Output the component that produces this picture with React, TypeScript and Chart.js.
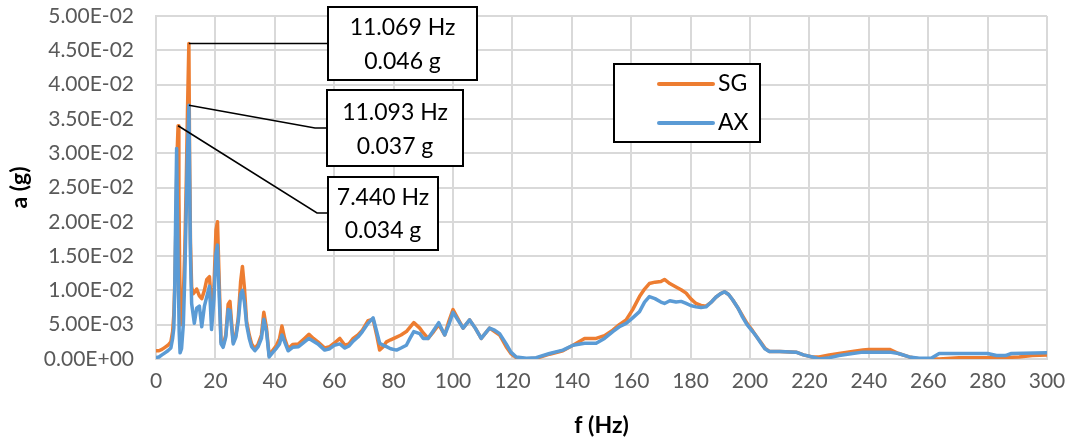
import React, { useEffect, useRef } from "react";
import { Chart, registerables } from "chart.js";

Chart.register(...registerables);

// ---- data ----
const SERIES_NAMES = ["SG", "AX"];

const SG_FREQ = [
  0, 1, 2, 3, 4, 5, 5.6, 6.0, 6.4, 6.8, 7.1, 7.44, 7.7, 8.0, 8.4, 8.8, 9.2, 9.7, 10.2, 10.6, 11.069, 11.3, 11.6,
  12.0, 12.5, 12.9, 13.7, 14.6, 15.4, 16.3, 17.1, 18.0, 18.7, 19.5, 20.2, 20.7, 21.3, 21.9, 22.6, 23.5, 24.3, 24.9,
  25.5, 26.0, 26.9, 27.7, 28.5, 29.1, 29.8, 30.5, 31.4, 32.2, 33.3, 34.4, 35.5, 36.3, 37.2, 38.1, 39.4, 40.6, 41.6,
  42.4, 43.3, 44.5, 46.0, 48.0, 50.0, 51.5, 53.0, 54.5, 56.8, 58.5, 60.0, 61.9, 63.6, 65.0, 66.4, 68.0, 69.5, 71.4,
  73.1, 74.3, 75.3, 76.5, 77.6, 79.0, 81.0, 82.5, 84.3, 86.8, 88.8, 90.0, 91.6, 93.5, 95.2, 97.2, 98.6, 100.0, 101.5,
  103.4, 105.6, 107.5, 109.5, 112.3, 114.0, 115.7, 117.9, 119.5, 121.3, 124.7, 128.0, 132.5, 137.0, 140.4, 144.3,
  148.2, 151.0, 153.8, 156.0, 158.3, 160.5, 162.8, 164.5, 166.1, 168.0, 170.0, 171.2, 173.0, 175.1, 176.8, 178.5,
  180.0, 181.8, 183.5, 185.2, 187.0, 188.5, 190.0, 191.4, 192.8, 194.2, 196.0, 197.5, 199.0, 200.9, 202.3, 203.7,
  205.0, 206.5, 210.0, 215.5, 218.0, 221.0, 223.3, 226.7, 230.0, 234.5, 238.0, 240.0, 247.0, 250.0, 253.6, 257.0,
  263.7, 270.4, 285.0, 290.6, 295.0, 300.0,
];
const SG_VAL = [
  0.0012, 0.0012, 0.0014, 0.0017, 0.002, 0.0025, 0.004, 0.0065, 0.012, 0.022, 0.03, 0.034, 0.024, 0.012, 0.005, 0.0055,
  0.009, 0.016, 0.026, 0.036, 0.046, 0.03, 0.017,
  0.0105, 0.0095, 0.0097, 0.0102, 0.0092, 0.0088, 0.01, 0.0116, 0.012, 0.0077, 0.0104, 0.0188, 0.02, 0.011, 0.0025,
  0.002, 0.0035, 0.008, 0.0084,
  0.005, 0.0025, 0.0035, 0.006, 0.0113, 0.0135, 0.0102, 0.0055, 0.0035, 0.0022, 0.0015, 0.0022, 0.0035, 0.0068, 0.0045,
  0.0005, 0.0013, 0.002, 0.003,
  0.0048, 0.003, 0.0015, 0.0021, 0.0022, 0.003, 0.0036, 0.003, 0.0025, 0.0016, 0.0018, 0.0023, 0.003, 0.002, 0.0022,
  0.003, 0.0035, 0.0042, 0.0056,
  0.0058, 0.0035, 0.0013, 0.0018, 0.0025, 0.0028, 0.0032, 0.0035, 0.004, 0.0053, 0.0045, 0.0038, 0.003, 0.004, 0.005,
  0.0035, 0.0055, 0.0072, 0.006,
  0.0045, 0.0057, 0.0045, 0.003, 0.0045, 0.004, 0.0035, 0.0018, 0.0008, 0.0002, 0.0, 0.0001, 0.0007, 0.0012, 0.002,
  0.003,
  0.003, 0.0034, 0.0042, 0.005, 0.0057, 0.0072, 0.0091, 0.0102, 0.011, 0.0112, 0.0113, 0.0116, 0.011, 0.0105, 0.0101,
  0.0096,
  0.0088, 0.0081, 0.0078, 0.0077, 0.0083, 0.009, 0.0095, 0.0098, 0.0094, 0.0086, 0.0074, 0.0063, 0.0052, 0.0041,
  0.0032, 0.0024,
  0.0016, 0.0011, 0.0011, 0.001, 0.0006, 0.0003, 0.0003, 0.0006, 0.0008, 0.0011, 0.0013, 0.0014, 0.0014, 0.0008,
  0.0003, 0.0,
  0.0, 0.0002, 0.0002, 0.0003, 0.0005, 0.0006,
];

const AX_FREQ = [
  0, 1, 2, 3, 4, 5, 5.6, 6.0, 6.3, 6.6, 6.95, 7.2, 7.5, 7.8, 8.1, 8.6, 9.2, 9.7, 10.2, 10.6, 11.093, 11.3, 11.6,
  12.0, 12.5, 12.9, 13.7, 14.6, 15.4, 16.3, 17.1, 18.0, 18.7, 19.5, 20.2, 20.7, 21.3, 21.9, 22.6, 23.5, 24.3, 24.9,
  25.5, 26.0, 26.9, 27.7, 28.5, 29.1, 29.8, 30.5, 31.4, 32.2, 33.3, 34.4, 35.5, 36.3, 37.2, 38.1, 39.4, 40.6, 41.6,
  42.4, 43.3, 44.5, 46.0, 48.0, 50.0, 51.5, 53.0, 54.5, 56.8, 58.5, 60.0, 61.9, 63.6, 65.0, 66.4, 68.0, 69.5, 71.4,
  73.1, 74.3, 75.3, 76.5, 77.6, 79.0, 81.0, 82.5, 84.3, 85.5, 86.8, 88.8, 90.0, 91.6, 93.5, 95.2, 97.2, 98.6, 100.0,
  101.5, 103.4, 105.6, 107.5, 109.5, 112.3, 114.0, 115.7, 117.9, 119.5, 121.3, 124.7, 128.0, 132.5, 137.0, 140.4,
  144.3, 148.2, 151.0, 153.8, 156.0, 158.3, 160.5, 162.8, 164.5, 166.1, 168.0, 170.0, 171.2, 173.0, 175.1, 176.8,
  178.5, 180.0, 181.8, 183.5, 185.2, 187.0, 188.5, 190.0, 191.4, 192.8, 194.2, 196.0, 197.5, 199.0, 200.9, 202.3,
  203.7, 205.0, 206.5, 210.0, 215.5, 218.0, 221.0, 223.3, 226.7, 230.0, 234.5, 238.0, 247.0, 250.0, 253.6, 257.0,
  261.0, 263.7, 277.0, 280.0, 283.0, 286.0, 288.0, 300.0,
];
const AX_VAL = [
  0.0002, 0.0003, 0.0006, 0.0009, 0.0012, 0.0016, 0.003, 0.0045, 0.01, 0.02, 0.0307, 0.022, 0.012, 0.004, 0.0009,
  0.0015, 0.005, 0.012, 0.022, 0.03, 0.037, 0.027, 0.015,
  0.0081, 0.0065, 0.0052, 0.0074, 0.0077, 0.0047, 0.0077, 0.0091, 0.0106, 0.0043, 0.0087, 0.0154, 0.0166, 0.009,
  0.0022, 0.0017, 0.0032, 0.0072, 0.0071,
  0.0045, 0.0022, 0.0032, 0.0055, 0.0094, 0.01, 0.0082, 0.005, 0.003, 0.0018, 0.0012, 0.0018, 0.003, 0.0058, 0.004,
  0.0003, 0.001, 0.0016, 0.0022,
  0.0035, 0.0025, 0.0012, 0.0017, 0.0018, 0.0025, 0.003, 0.0026, 0.0022, 0.0013, 0.0015, 0.002, 0.0022, 0.0016, 0.0019,
  0.0026, 0.0032, 0.004, 0.0052,
  0.006, 0.004, 0.0023, 0.002, 0.0018, 0.0015, 0.0013, 0.0016, 0.002, 0.003, 0.004, 0.0037, 0.003, 0.003, 0.0042,
  0.0053, 0.0035, 0.005, 0.0068,
  0.0058, 0.0045, 0.0057, 0.0045, 0.003, 0.0045, 0.0042, 0.0037, 0.0022, 0.001, 0.0003, 0.0001, 0.0002, 0.0008,
  0.0013, 0.002,
  0.0023, 0.0023, 0.003, 0.004, 0.0047, 0.0052, 0.006, 0.0069, 0.0083, 0.0091, 0.0088, 0.0083, 0.0081, 0.0085,
  0.0083, 0.0084,
  0.0081, 0.0078, 0.0076, 0.0075, 0.0076, 0.0083, 0.009, 0.0095, 0.0098, 0.0094, 0.0086, 0.0074, 0.0061, 0.005,
  0.004, 0.0032,
  0.0023, 0.0015, 0.0011, 0.0011, 0.001, 0.0006, 0.0003, 0.0, 0.0002, 0.0005, 0.0008, 0.001, 0.001, 0.0008, 0.0003,
  0.0001,
  0.0001, 0.0008, 0.0008, 0.0008, 0.0005, 0.0005, 0.0008, 0.0009,
];

// peak callouts
const CALLOUT_FREQ = [11.069, 11.093, 7.44];
const CALLOUT_VAL = [0.046, 0.037, 0.034];
const CALLOUT_TEXT = [
  ["11.069 Hz", "0.046 g"],
  ["11.093 Hz", "0.037 g"],
  ["7.440 Hz", "0.034 g"],
];

const X_MIN = 0;
const X_MAX = 300;
const X_STEP = 20;
const Y_MIN = 0;
const Y_MAX = 0.05;
const Y_STEP = 0.005;

const ORANGE = "#ED7D31";
const BLUE = "#5B9BD5";
const FONT = "Lato, 'Open Sans', sans-serif";

function sci(v: number): string {
  if (Math.abs(v) < 1e-12) return "0.00E+00";
  const e = Math.floor(Math.log10(Math.abs(v)) + 1e-9);
  const m = v / Math.pow(10, e);
  return m.toFixed(2) + "E" + (e < 0 ? "-" : "+") + String(Math.abs(e)).padStart(2, "0");
}

// layout of callout boxes (pixels)
const BOXES = [
  { x: 328, y: 7, w: 149, h: 73, elbow: null as null | [number, number], joinY: 43, t1: 28, t2: 62 },
  { x: 327, y: 90, w: 136, h: 76, elbow: [315, 128] as [number, number], joinY: 128, t1: 113, t2: 147 },
  { x: 328, y: 177, w: 110, h: 73, elbow: [317, 213] as [number, number], joinY: 213, t1: 198, t2: 231 },
];

const overlayPlugin = {
  id: "overlay",
  afterDatasetsDraw(chart: any) {
    const ctx = chart.ctx as CanvasRenderingContext2D;
    const xs = chart.scales.x;
    const ys = chart.scales.y;
    ctx.save();
    BOXES.forEach((b, i) => {
      const px = xs.getPixelForValue(CALLOUT_FREQ[i]);
      const py = ys.getPixelForValue(CALLOUT_VAL[i]);
      ctx.strokeStyle = "#000";
      ctx.lineWidth = 1.5;
      ctx.beginPath();
      ctx.moveTo(px, py);
      if (b.elbow) {
        ctx.lineTo(b.elbow[0], b.elbow[1]);
        ctx.lineTo(b.x, b.joinY);
      } else {
        ctx.lineTo(b.x, py);
      }
      ctx.stroke();
      ctx.fillStyle = "#fff";
      ctx.fillRect(b.x, b.y, b.w, b.h);
      ctx.lineWidth = 2;
      ctx.strokeRect(b.x, b.y, b.w, b.h);
      ctx.fillStyle = "#000";
      ctx.font = `23px ${FONT}`;
      ctx.textAlign = "center";
      ctx.textBaseline = "middle";
      ctx.fillText(CALLOUT_TEXT[i][0], b.x + b.w / 2, b.t1);
      ctx.fillText(CALLOUT_TEXT[i][1], b.x + b.w / 2, b.t2);
    });
    // legend
    const lg = { x: 614, y: 64, w: 146, h: 78 };
    ctx.fillStyle = "#fff";
    ctx.fillRect(lg.x, lg.y, lg.w, lg.h);
    ctx.strokeStyle = "#000";
    ctx.lineWidth = 2;
    ctx.strokeRect(lg.x, lg.y, lg.w, lg.h);
    const rows = [84, 123];
    const cols = [ORANGE, BLUE];
    rows.forEach((ry, i) => {
      ctx.strokeStyle = cols[i];
      ctx.lineWidth = 4;
      ctx.lineCap = "round";
      ctx.beginPath();
      ctx.moveTo(659, ry);
      ctx.lineTo(713, ry);
      ctx.stroke();
      ctx.fillStyle = "#000";
      ctx.font = `23px ${FONT}`;
      ctx.textAlign = "left";
      ctx.textBaseline = "middle";
      ctx.fillText(SERIES_NAMES[i], 718, ry);
    });
    ctx.restore();
  },
};

export default function App() {
  const ref = useRef<HTMLCanvasElement>(null);
  useEffect(() => {
    document.body.style.margin = "0";
    const canvas = ref.current!;
    const chart = new Chart(canvas, {
      type: "line",
      data: {
        datasets: [
          {
            label: SERIES_NAMES[0],
            data: SG_FREQ.map((f, i) => ({ x: f, y: SG_VAL[i] })),
            borderColor: ORANGE,
            backgroundColor: ORANGE,
            borderWidth: 3.5,
            pointRadius: 0,
            tension: 0,
            order: 2,
            borderJoinStyle: "round",
            borderCapStyle: "round",
          },
          {
            label: SERIES_NAMES[1],
            data: AX_FREQ.map((f, i) => ({ x: f, y: AX_VAL[i] })),
            borderColor: BLUE,
            backgroundColor: BLUE,
            borderWidth: 3.5,
            pointRadius: 0,
            tension: 0,
            order: 1,
            borderJoinStyle: "round",
            borderCapStyle: "round",
          },
        ],
      },
      options: {
        animation: false,
        responsive: false,
        devicePixelRatio: 1,
        layout: { padding: { top: 16, right: 26, left: 0, bottom: 0 } },
        plugins: { legend: { display: false }, tooltip: { enabled: false } },
        scales: {
          x: {
            type: "linear",
            min: X_MIN,
            max: X_MAX,
            ticks: {
              stepSize: X_STEP,
              color: "#595959",
              font: { family: FONT, size: 21 },
              padding: 10,
              maxRotation: 0,
            },
            grid: { color: "#d9d9d9", lineWidth: 2, drawTicks: false },
            border: { color: "#d9d9d9", width: 2 },
            title: {
              display: true,
              text: "f (Hz)",
              color: "#000",
              font: { family: FONT, size: 23, weight: "bold" },
              padding: { top: 0, bottom: 6 },
            },
            afterFit: (s: any) => {
              s.height = 86;
              s.paddingLeft = 0;
              s.paddingRight = 0;
            },
          },
          y: {
            type: "linear",
            min: Y_MIN,
            max: Y_MAX,
            ticks: {
              stepSize: Y_STEP,
              color: "#595959",
              font: { family: FONT, size: 21 },
              padding: 22,
              callback: (v: any) => sci(Number(v)),
            },
            grid: { color: "#d9d9d9", lineWidth: 2, drawTicks: false },
            border: { color: "#d9d9d9", width: 2 },
            title: {
              display: true,
              text: "a (g)",
              color: "#000",
              font: { family: FONT, size: 23, weight: "bold" },
              padding: { top: 6, bottom: 0 },
            },
            afterFit: (s: any) => {
              s.width = 156;
              s.paddingTop = 0;
              s.paddingBottom = 0;
            },
          },
        },
      },
      plugins: [overlayPlugin],
    } as any);
    return () => chart.destroy();
  }, []);
  return (
    <div style={{ width: 1073, height: 445 }}>
      <canvas ref={ref} width={1073} height={445} style={{ display: "block" }} />
    </div>
  );
}
